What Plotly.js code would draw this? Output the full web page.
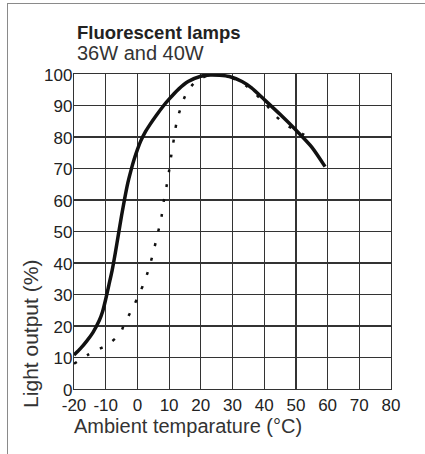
<!DOCTYPE html>
<html>
<head>
<meta charset="utf-8">
<script src="https://cdn.plot.ly/plotly-3.0.1.min.js"></script>
<style>
  html, body { margin: 0; padding: 0; background: #fff; }
  #wrap { position: relative; width: 425px; height: 454px; }
  #chart { position: absolute; left: 0; top: 0; width: 425px; height: 454px; }
  #frame { position: absolute; left: 7px; top: 3px; right: 0; bottom: 0;
           border-top: 1.5px solid #8a8a8a; border-left: 1.5px solid #8a8a8a; pointer-events: none; }
</style>
</head>
<body>
<div id="wrap">
  <div id="chart"></div>
  <div id="frame"></div>
</div>
<script>
const titleText = "Fluorescent lamps";
const subtitleText = "36W and 40W";
const xTitle = "Ambient temparature (°C)";
const yTitle = "Light output (%)";

const xTicks = [-20, -10, 0, 10, 20, 30, 40, 50, 60, 70, 80];
const yTicks = [0, 10, 20, 30, 40, 50, 60, 70, 80, 90, 100];

// Solid curve
const solidX = [-20, -18, -16, -14, -12, -11, -10, -9, -8, -7, -6, -5, -4, -3, -2, -1, 0, 1, 2.5, 4, 6, 8, 10, 13, 16, 20, 23, 26, 29, 33, 36, 40, 45, 50, 55, 59.2];
const solidY = [10.8, 12.8, 15.2, 18, 21.8, 24.5, 28.5, 33, 37.5, 43, 49, 55, 60.5, 65.5, 69.5, 73, 76, 78.6, 81.6, 84, 86.9, 89.6, 92, 95.2, 97.6, 99.3, 99.7, 99.6, 99.2, 97.6, 95.6, 91.9, 87.2, 82.2, 76.8, 70.6];

// Dotted curve
const dotX = [-20, -15.2, -9.1, -5.4, -4.2, -1.4, 0.7, 2.5, 4.1, 5.3, 6.5, 7.6, 8.3, 9.2, 10, 10.7, 11.5, 12.3, 13.6, 15.5, 18.4, 23, 28.1, 34, 40.2, 43.4, 47, 52, 56];
const dotY = [8, 11.1, 14.3, 17.7, 20.5, 25.9, 30.4, 34.8, 39.9, 44.6, 49.7, 54.7, 59.5, 64.4, 69.3, 74.3, 79.3, 84.3, 89.1, 93.9, 97.6, 99.7, 99.4, 96.5, 90.7, 86.9, 83.8, 81, 78.9];

const data = [
  { x: solidX, y: solidY, type: 'scatter', mode: 'lines',
    line: { color: '#111', width: 3.5, shape: 'spline', smoothing: 0.7 }, hoverinfo: 'skip' },
  { x: dotX, y: dotY, type: 'scatter', mode: 'lines',
    line: { color: '#111', width: 2.5, shape: 'spline', smoothing: 0.8, dash: '3px,12px' }, hoverinfo: 'skip' }
];

const fam = 'Liberation Sans, Arial, Helvetica, sans-serif';

const layout = {
  width: 425, height: 454,
  margin: { l: 74, r: 34, t: 74, b: 65, pad: 0 },
  paper_bgcolor: '#fff', plot_bgcolor: '#fff',
  showlegend: false,
  font: { family: fam, color: '#222', size: 17 },
  xaxis: {
    range: [-20, 80], tickvals: xTicks, ticktext: xTicks.map(String),
    showgrid: true, gridcolor: '#333', gridwidth: 1.2,
    zeroline: false, showline: true, linecolor: '#333', linewidth: 1.2, mirror: true,
    ticks: '', ticklen: 0, tickfont: { family: fam, size: 17, color: '#222' },
    fixedrange: true
  },
  yaxis: {
    range: [0, 100], tickvals: yTicks, ticktext: yTicks.map(String),
    showgrid: true, gridcolor: '#333', gridwidth: 1.2,
    zeroline: false, showline: true, linecolor: '#333', linewidth: 1.2, mirror: true,
    ticks: '', ticklen: 0, tickfont: { family: fam, size: 17, color: '#222' },
    ticklabelstandoff: -3, ticklabelshift: 1,
    fixedrange: true
  },
  annotations: [
    { text: '<b>' + titleText + '</b>', xref: 'paper', yref: 'paper', x: 0, y: 1,
      xanchor: 'left', yanchor: 'middle', xshift: 1, yshift: 42, showarrow: false,
      font: { family: fam, size: 18.5, color: '#222' } },
    { text: subtitleText, xref: 'paper', yref: 'paper', x: 0, y: 1,
      xanchor: 'left', yanchor: 'middle', xshift: 1, yshift: 21, showarrow: false,
      font: { family: fam, size: 20, color: '#333' } },
    { text: xTitle, xref: 'paper', yref: 'paper', x: 0, y: 0,
      xanchor: 'left', yanchor: 'middle', xshift: -2, yshift: -37, showarrow: false,
      font: { family: fam, size: 20, color: '#333' } },
    { text: yTitle, xref: 'paper', yref: 'paper', x: 0, y: 0.175,
      xanchor: 'center', yanchor: 'middle', xshift: -43, showarrow: false, textangle: -90,
      font: { family: fam, size: 21, color: '#333' } }
  ]
};

Plotly.newPlot('chart', data, layout, { displayModeBar: false, staticPlot: true });
</script>
</body>
</html>
